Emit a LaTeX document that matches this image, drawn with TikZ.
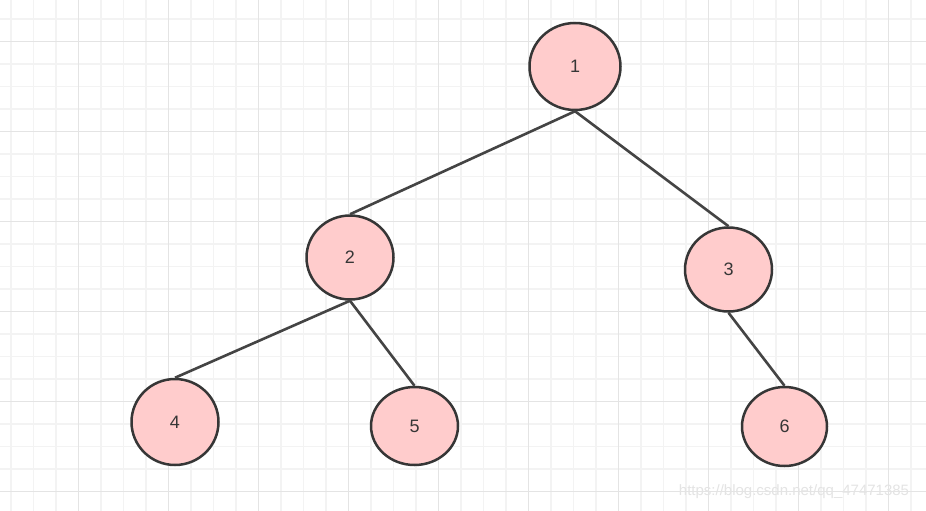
\documentclass[tikz,border=0pt]{standalone}
\usepackage{fontspec}
\setmainfont{Liberation Sans}
\usetikzlibrary{shapes.geometric}
\definecolor{nodefill}{HTML}{FFCCCC}
\definecolor{nodeline}{HTML}{363636}
\definecolor{edgeline}{HTML}{444444}
\definecolor{gridminor}{HTML}{F3F3F3}
\definecolor{gridmajor}{HTML}{E4E4E4}
\tikzstyle{treenode} = [ellipse, fill=nodefill, draw=nodeline, text=nodeline, line width=2.5pt, inner sep=0pt,
minimum width=87pt, minimum height=84pt, font=\fontsize{18}{20}\selectfont]
\tikzstyle{edge} = [draw=edgeline, line width=2.6pt]
\tikzstyle{minorline} = [draw=gridminor, line width=1.3pt]
\tikzstyle{majorline} = [draw=gridmajor, line width=1.5pt]

\begin{document}
\begin{tikzpicture}[x=1pt, y=-1pt]
        \useasboundingbox (0,0) rectangle (926,511);
        \fill[white] (0,0) rectangle (926,511);

        % Grid
        \foreach \gx in {0,...,41} {
            \draw[minorline] (11+22.5*\gx,0) -- (11+22.5*\gx,511);
        }
        \foreach \gy in {0,...,22} {
            \draw[minorline] (0,19+22.5*\gy) -- (926,19+22.5*\gy);
        }
        \foreach \gx in {0,...,9} {
            \draw[majorline] (78.7+90*\gx,0) -- (78.7+90*\gx,511);
        }
        \foreach \gy in {0,...,5} {
            \draw[majorline] (0,41.7+90*\gy) -- (926,41.7+90*\gy);
        }

        % Nodes
        \node[treenode, minimum width=91pt, minimum height=87pt] (n1) at (575,66.5) {1};
        \node[treenode] (n2) at (350,257.5) {2};
        \node[treenode] (n3) at (728.5,269.5) {3};
        \node[treenode, minimum height=86pt] (n4) at (175,422) {4};
        \node[treenode, minimum height=78pt] (n5) at (414.5,426) {5};
        \node[treenode, minimum width=85pt, minimum height=79pt] (n6) at (784.5,426.5) {6};

        % Edges
        \draw[edge] (n1.south) -- (n2.north);
        \draw[edge] (n1.south) -- (n3.north);
        \draw[edge] (n2.south) -- (n4.north);
        \draw[edge] (n2.south) -- (n5.north);
        \draw[edge] (n3.south) -- (n6.north);

        % Watermark
        \node[text=gridmajor, font=\fontsize{15}{17}\selectfont, inner sep=0pt] (mark) at (794,492) {https://blog.csdn.net/qq\_47471385};

    \end{tikzpicture}
\end{document}
